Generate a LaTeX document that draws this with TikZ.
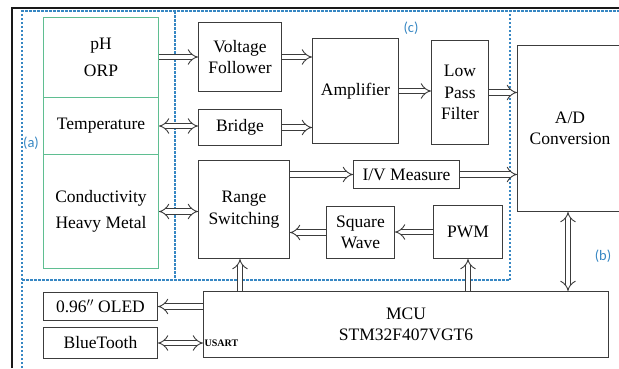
\documentclass[tikz,border=0pt]{standalone}
\usepackage{fontspec}
\setmainfont{Liberation Serif}
\newfontfamily\labfont{Carlito}
\usetikzlibrary{arrows.meta}
\definecolor{bxgray}{RGB}{60,60,60}
\definecolor{sgreen}{RGB}{95,190,145}
\definecolor{dblue}{RGB}{55,135,195}
\begin{document}
\begin{tikzpicture}[x=1pt,y=-1pt,
  font=\fontsize{17.5}{21.5}\selectfont,
  box/.style={draw=bxgray, line width=1pt, inner sep=0pt, align=center, anchor=north west, text=black},
  gbox/.style={draw=sgreen, line width=1pt, inner sep=0pt, align=center, anchor=north west, text=black},
  arr/.style={draw=bxgray, double=white, double distance=4.6pt, line width=0.9pt, -{Implies}},
  barr/.style={arr, {Implies}-{Implies}},
  zone/.style={draw=dblue, dash pattern=on 2.5pt off 1.5pt, line width=1.2pt},
  lab/.style={text=dblue, font=\labfont\fontsize{14.5}{16}\selectfont, inner sep=0pt}]
\useasboundingbox (0,0) rectangle (619,368);

% sensor column
\node[gbox, minimum width=115, minimum height=80] (ph) at (43,17) {pH\\[5pt]ORP};
\node[gbox, minimum width=115, minimum height=57] (temp) at (43,97) {Temperature};
\node[gbox, minimum width=115, minimum height=114] (cond) at (43,154) {Conductivity\\[5pt]Heavy Metal};

% region (c)
\node[box, minimum width=83, minimum height=69] (vf) at (198,22) {Voltage\\Follower};
\node[box, minimum width=83, minimum height=36] (br) at (198,109) {Bridge};
\node[box, minimum width=91, minimum height=98] (rs) at (198,160) {Range\\Switching};
\node[box, minimum width=86, minimum height=105] (amp) at (312,38) {Amplifier};
\node[box, minimum width=57, minimum height=104] (lpf) at (431,40) {Low\\Pass\\Filter};
\node[box, minimum width=106, minimum height=28] (iv) at (353,160) {I/V Measure};
\node[box, minimum width=68, minimum height=52] (sw) at (326,206) {Square\\Wave};
\node[box, minimum width=69, minimum height=53] (pwm) at (433,205) {PWM};

% region (b)
\node[box, minimum width=105, minimum height=166] (ad) at (517,45) {A/D\\Conversion};
\node[box, minimum width=405, minimum height=66] (mcu) at (203,291) {MCU\\STM32F407VGT6};
\node[box, minimum width=114, minimum height=28] (oled) at (43,292) {0.96$''$ OLED};
\node[box, minimum width=114, minimum height=31] (bt) at (43,327) {BlueTooth};
\node[anchor=west, inner sep=1.5pt, text=black, font=\bfseries\fontsize{10}{12}\selectfont] (usart) at (mcu.west |- bt.east) {USART};

% zones
\draw[zone] (22,368) -- (22,11) -- (619,11);
\draw[zone] (175,11) -- (175,280);
\draw[zone] (22,280) -- (510,280) -- (510,11);
\node[lab] (la) at (31,143) {(a)};
\node[lab] (lc) at (411,28) {(c)};
\node[lab] (lb) at (603,256) {(b)};

% connectors
\draw[arr] (ph.east |- vf.east) -- (vf.west);
\draw[barr] (temp.east) -- (temp.east -| br.west);
\draw[barr] (cond.east) -- (cond.east -| rs.west);
\draw[arr] (vf.east) -- (vf.east -| amp.west);
\draw[arr] (br.east) -- (br.east -| amp.west);
\draw[arr] (amp.east) -- (amp.east -| lpf.west);
\draw[arr] (lpf.east) -- (lpf.east -| ad.west);
\draw[arr] (iv.west -| rs.east) -- (iv.west);
\draw[arr] (iv.east) -- (iv.east -| ad.west);
\draw[arr] (pwm.west) -- (pwm.west -| sw.east);
\draw[arr] (sw.west) -- (sw.west -| rs.east);
\draw[arr] ([xshift=-4pt]rs.south |- mcu.north) -- ([xshift=-4pt]rs.south);
\draw[arr] (pwm.south |- mcu.north) -- (pwm.south);
\draw[barr] ([xshift=-2pt]ad.south) -- ([xshift=-2pt]ad.south |- mcu.north);
\draw[arr] (oled.east -| mcu.west) -- (oled.east);
\draw[barr] (bt.east) -- (bt.east -| mcu.west);

% frame
\draw[line width=1.4pt, black!90] (12,368) -- (12,8) -- (619,8);
\end{tikzpicture}
\end{document}
